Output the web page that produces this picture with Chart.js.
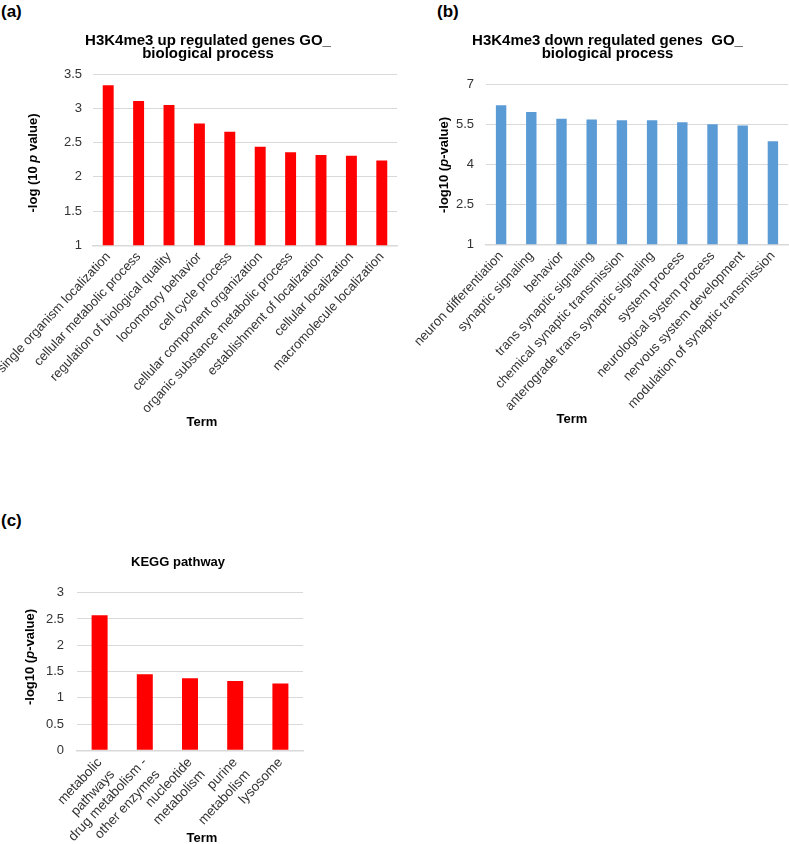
<!DOCTYPE html>
<html><head><meta charset="utf-8">
<script src="https://cdn.jsdelivr.net/npm/chart.js@4.4.0/dist/chart.umd.min.js"></script>
<style>
html,body{margin:0;padding:0;background:#fff;width:789px;height:844px;overflow:hidden;}
.pane{position:absolute;}
.lbl{position:absolute;font:bold 17px "Liberation Sans",Arial,sans-serif;color:#000;}
</style></head><body>
<div class="lbl" style="left:1px;top:2px">(a)</div>
<div class="lbl" style="left:437px;top:2px">(b)</div>
<div class="lbl" style="left:1px;top:511px">(c)</div>
<canvas id="ca" class="pane" style="left:0;top:0" width="416" height="440"></canvas>
<canvas id="cb" class="pane" style="left:400px;top:0" width="389" height="440"></canvas>
<canvas id="cc" class="pane" style="left:0;top:500px" width="356" height="344"></canvas>
<script>
// ---- data ----
const termsA = ["single organism localization","cellular metabolic process","regulation of biological quality","locomotory behavior","cell cycle process","cellular component organization","organic substance metabolic process","establishment of localization","cellular localization","macromolecule localization"];
const valuesA = [3.34, 3.11, 3.05, 2.78, 2.66, 2.44, 2.36, 2.32, 2.31, 2.24];
const ticksA = [1, 1.5, 2, 2.5, 3, 3.5];

const termsB = ["neuron differentiation","synaptic signaling","behavior","trans synaptic signaling","chemical synaptic transmission","anterograde trans synaptic signaling","system process","neurological system process","nervous system development","modulation of synaptic transmission"];
const valuesB = [6.20, 5.95, 5.70, 5.67, 5.64, 5.64, 5.57, 5.49, 5.45, 4.86];
const ticksB = [1, 2.5, 4, 5.5, 7];

const termsC = [["metabolic","pathways"],["drug metabolism -","other enzymes"],["nucleotide","metabolism"],["purine","metabolism"],["lysosome"]];
const valuesC = [2.57, 1.45, 1.37, 1.32, 1.27];
const ticksC = [0, 0.5, 1, 1.5, 2, 2.5, 3];

const FAM = '"Liberation Sans", Arial, sans-serif';

const axisTitles = {
  id: 'axisTitles',
  afterDraw(chart, args, o) {
    const ctx = chart.ctx;
    ctx.save();
    ctx.fillStyle = '#000';
    ctx.textBaseline = 'middle';
    const fonts = o.yParts.map(p => (p.italic ? 'italic ' : '') + 'bold 13px ' + FAM);
    let total = 0;
    const ws = o.yParts.map((p, i) => { ctx.font = fonts[i]; const w = ctx.measureText(p.text).width; total += w; return w; });
    ctx.translate(o.yX, o.yY);
    ctx.rotate(-Math.PI / 2);
    ctx.textAlign = 'left';
    let x = -total / 2;
    o.yParts.forEach((p, i) => { ctx.font = fonts[i]; ctx.fillText(p.text, x, 0); x += ws[i]; });
    ctx.restore();
    ctx.save();
    ctx.fillStyle = '#000';
    ctx.font = 'bold 13px ' + FAM;
    ctx.textAlign = 'center';
    ctx.textBaseline = 'middle';
    ctx.fillText(o.xText, o.xX, o.xY);
    ctx.restore();
  }
};

function makeChart(id, p) {
  return new Chart(document.getElementById(id), {
    type: 'bar',
    data: { labels: p.labels, datasets: [{ data: p.values, backgroundColor: p.color, borderWidth: 0, categoryPercentage: 1, barPercentage: p.barPct }] },
    options: {
      responsive: false, animation: false,
      layout: { padding: { left: p.padLeft, right: p.padRight, top: 0, bottom: 0 } },
      plugins: {
        legend: { display: false }, tooltip: { enabled: false },
        title: { display: true, text: p.title, color: '#000', font: { family: FAM, size: p.titleSize, weight: 'bold', lineHeight: p.titleLH }, padding: { top: p.titleTop, bottom: p.titleBottom } },
        axisTitles: p.axis
      },
      scales: {
        x: {
          grid: { display: false, drawTicks: false },
          border: { display: true, color: '#d9d9d9', width: 1.5 },
          ticks: { autoSkip: false, minRotation: 47, maxRotation: 47, padding: 4, color: '#333', font: { family: FAM, size: p.xFont, lineHeight: p.xLH } },
          afterFit: s => { s.height = p.xHeight; s.paddingLeft = 0; s.paddingRight = 0; s._computeLabelArea = () => null; }
        },
        y: {
          min: p.ticks[0], max: p.ticks[p.ticks.length - 1],
          grid: { color: '#d9d9d9', lineWidth: 1, drawTicks: false },
          border: { display: false },
          ticks: { padding: p.yPad, color: '#333', font: { family: FAM, size: 13 }, callback: v => String(v) },
          afterBuildTicks: s => { s.ticks = p.ticks.map(v => ({ value: v })); },
          afterFit: s => { s.width = p.yWidth; s.paddingTop = 0; s.paddingBottom = 0; s._computeLabelArea = () => null; }
        }
      }
    },
    plugins: [axisTitles]
  });
}

makeChart('ca', {
  labels: termsA, values: valuesA, ticks: ticksA, color: '#ff0000', barPct: 0.36,
  title: ["H3K4me3 up regulated genes GO_", "biological process"], titleSize: 15, titleLH: 0.9, titleTop: 34, titleBottom: 13.3,
  padLeft: 19, padRight: 19, xHeight: 194.7, yWidth: 74, yPad: 11, xFont: 13, xLH: 1.2,
  axis: { yParts: [{ text: '-log (10 ' }, { text: 'p', italic: true }, { text: ' value)' }], yX: 33, yY: 163, xText: 'Term', xX: 202, xY: 422 }
});

makeChart('cb', {
  labels: termsB, values: valuesB, ticks: ticksB, color: '#5b9bd5', barPct: 0.345,
  title: ["H3K4me3 down regulated genes  GO_", "biological process"], titleSize: 15, titleLH: 0.9, titleTop: 34, titleBottom: 23,
  padLeft: 27, padRight: 1, xHeight: 195.7, yWidth: 59, yPad: 12, xFont: 13.2, xLH: 1.2,
  axis: { yParts: [{ text: '-log10 (' }, { text: 'p', italic: true }, { text: '-value)' }], yX: 44, yY: 165, xText: 'Term', xX: 172, xY: 419 }
});

makeChart('cc', {
  labels: termsC, values: valuesC, ticks: ticksC, color: '#ff0000', barPct: 0.354,
  title: "KEGG pathway", titleSize: 13, titleLH: 1.2, titleTop: 54.7, titleBottom: 22.4,
  padLeft: 53, padRight: 53, xHeight: 93.7, yWidth: 24, yPad: 13, xFont: 13.5, xLH: 1.3,
  axis: { yParts: [{ text: '-log10 (' }, { text: 'p', italic: true }, { text: '-value)' }], yX: 30, yY: 157, xText: 'Term', xX: 202, xY: 338 }
});
</script>
</body></html>
